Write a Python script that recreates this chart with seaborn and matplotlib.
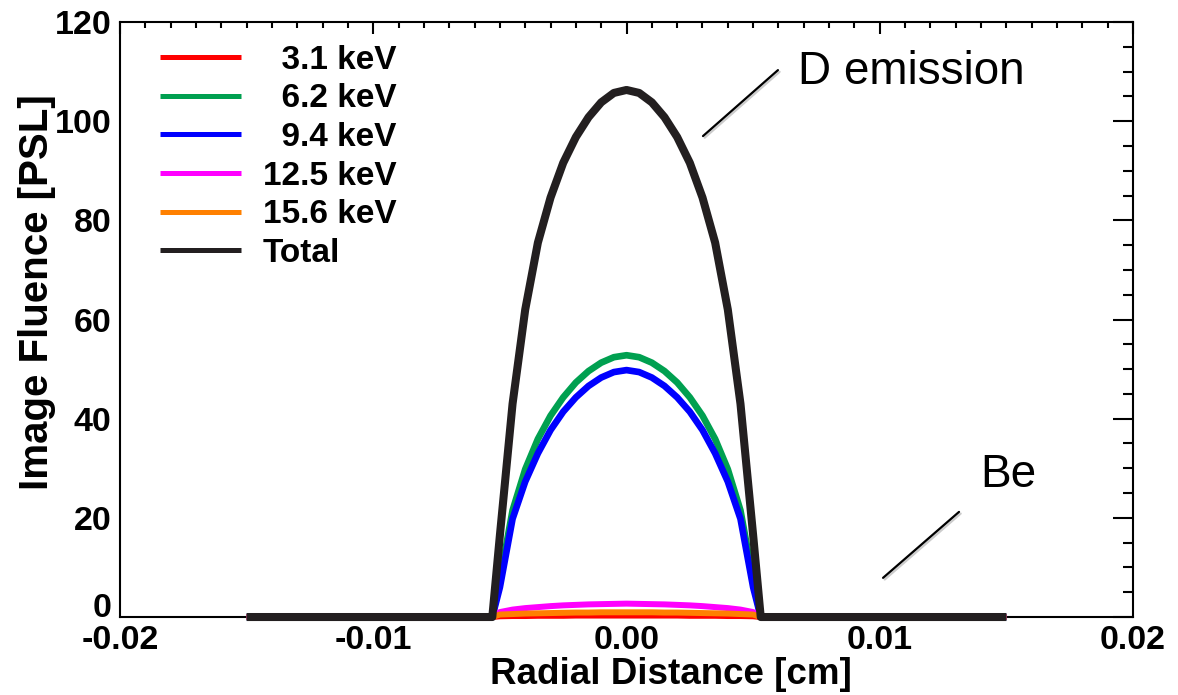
import numpy as np
import pandas as pd
import matplotlib
matplotlib.use("Agg")
import matplotlib.pyplot as plt
import matplotlib.patheffects as pe
from matplotlib.ticker import MultipleLocator
import seaborn as sns

# ---------------- data ----------------
radius_cm = [-0.015, -0.0053, -0.005, -0.0045, -0.004, -0.0035, -0.003, -0.0025, -0.002,
             -0.0015, -0.001, -0.0005, 0.0, 0.0005, 0.001, 0.0015, 0.002, 0.0025, 0.003,
             0.0035, 0.004, 0.0045, 0.005, 0.0053, 0.015]

# half profiles from the outer edge (-0.015) to the centre (0.0); mirrored for x > 0
half_red = [0, 0, 0.15, 0.2, 0.2, 0.25, 0.25, 0.25, 0.3, 0.3, 0.3, 0.3, 0.3]
half_green = [0, 0, 7.5, 21.5, 29.8, 35.9, 40.6, 44.3, 47.3, 49.6, 51.3, 52.4, 52.8]
half_blue = [0, 0, 6.0, 19.8, 27.3, 33.0, 37.7, 41.4, 44.3, 46.6, 48.3, 49.4, 49.8]
half_magenta = [0, 0, 1.0, 1.5, 1.8, 2.0, 2.2, 2.35, 2.45, 2.55, 2.6, 2.65, 2.7]
half_orange = [0, 0, 0.5, 0.6, 0.7, 0.75, 0.8, 0.85, 0.9, 0.9, 0.95, 0.95, 0.95]
half_total = [0, 0, 16.5, 43.0, 62.0, 75.5, 84.6, 91.6, 96.8, 100.8, 103.8, 105.7, 106.3]

series_labels = ["  3.1 keV", "  6.2 keV", "  9.4 keV", "12.5 keV", "15.6 keV", "Total"]
series_colors = ["#ff0000", "#00a050", "#0000ff", "#ff00ff", "#ff8000", "#231f20"]

x_ticks = [-0.02, -0.01, 0.0, 0.01, 0.02]
x_ticklabels = ["-0.02", "-0.01", "0.00", "0.01", "0.02"]
y_ticks = [0, 20, 40, 60, 80, 100, 120]


def mirror(h):
    return list(h) + list(h[-2::-1])


profiles = [mirror(h) for h in (half_red, half_green, half_blue, half_magenta, half_orange, half_total)]

# ---------------- figure ----------------
sns.set_style("white")
plt.rcParams['font.family'] = ['Liberation Sans', 'DejaVu Sans']
plt.rcParams['font.weight'] = 'bold'
plt.rcParams['text.color'] = 'black'
plt.rcParams['axes.labelcolor'] = 'black'
plt.rcParams['xtick.color'] = 'black'
plt.rcParams['ytick.color'] = 'black'

fig = plt.figure(figsize=(11.78, 6.95), dpi=100)
ax = fig.add_axes([0.1019, 0.1122, 0.8599, 0.8561])

widths = [4.3, 4.8, 4.8, 4.3, 4.3, 5.8]
for prof, lab, col, lw in zip(profiles, series_labels, series_colors, widths):
    df = pd.DataFrame({"x": radius_cm, "y": prof})
    sns.lineplot(data=df, x="x", y="y", ax=ax, color=col, linewidth=lw, label=lab,
                 sort=False, estimator=None, solid_joinstyle='round', solid_capstyle='butt',
                 clip_on=False, zorder=3)

ax.set_xlim(-0.02, 0.02)
ax.set_ylim(0, 120)
ax.set_xticks(x_ticks)
ax.set_xticklabels(x_ticklabels)
ax.set_yticks(y_ticks)
ax.xaxis.set_minor_locator(MultipleLocator(0.001))
ax.yaxis.set_minor_locator(MultipleLocator(5))

for s in ax.spines.values():
    s.set_visible(True)
    s.set_linewidth(1.5)
    s.set_color('black')

ax.tick_params(axis='both', which='both', direction='in', top=True, right=True,
               width=1.5, colors='black')
ax.tick_params(axis='y', which='major', length=14.4, pad=6, labelsize=24.5)
ax.tick_params(axis='y', which='minor', length=7.2)
ax.tick_params(axis='x', which='major', length=8.6, pad=6, labelsize=24.5)
ax.tick_params(axis='x', which='minor', length=4.3)
for t in ax.get_xticklabels() + ax.get_yticklabels():
    t.set_fontweight('bold')
ax.get_yticklabels()[0].set_va('baseline')

ax.set_xlabel("Radial Distance [cm]", fontsize=26.5, fontweight='bold')
ax.set_ylabel("Image Fluence [PSL]", fontsize=29, fontweight='bold')
ax.xaxis.set_label_coords(0.544, -0.097)
ax.xaxis.label.set_va('center')
ax.yaxis.set_label_coords(-0.082, 0.546)
ax.yaxis.label.set_va('center')

# legend
leg = ax.legend(loc='upper left', bbox_to_anchor=(0.0395, 0.962), frameon=False,
                borderpad=0, borderaxespad=0, handlelength=2.43, handletextpad=0.66,
                labelspacing=0.23, prop={'weight': 'bold', 'size': 24})
for ln in leg.get_lines():
    ln.set_linewidth(3.6)

# annotations
shadow = [pe.SimpleLineShadow(offset=(1.2, -1.2), shadow_color='gray', alpha=0.4), pe.Normal()]
ax.plot([0.00302, 0.00598], [97.0, 110.3], color='black', lw=1.6, path_effects=shadow)
ax.text(0.00677, 110.0, "D emission", fontsize=33, fontweight='normal', va='center', ha='left')
ax.plot([0.01013, 0.01313], [7.9, 21.2], color='black', lw=1.6, path_effects=shadow)
ax.text(0.01396, 28.6, "Be", fontsize=33, fontweight='normal', va='center', ha='left')

fig.savefig("out.png", dpi=100)
